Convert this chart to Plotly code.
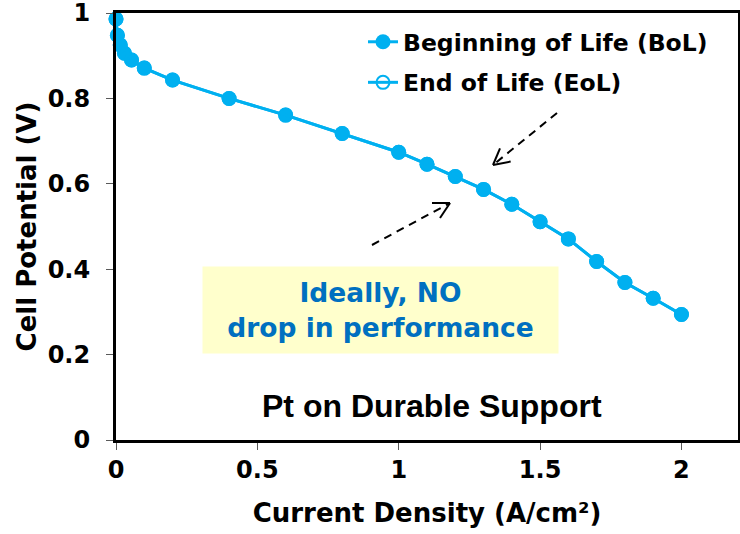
import math
import plotly.graph_objects as go

# ---- data ----
current_density = [0, 0.005, 0.015, 0.03, 0.055, 0.1, 0.2, 0.4, 0.6, 0.8, 1.0, 1.1, 1.2, 1.3,
                   1.4, 1.5, 1.6, 1.7, 1.8, 1.9, 2.0]
bol_potential = [0.986, 0.948, 0.925, 0.906, 0.890, 0.871, 0.843, 0.800, 0.761, 0.718, 0.674,
                 0.646, 0.617, 0.587, 0.552, 0.511, 0.471, 0.418, 0.369, 0.332, 0.294]
eol_potential = list(bol_potential)  # ideally no drop in performance
series_names = ["Beginning of Life (BoL)", "End of Life (EoL)"]
x_ticks = [0, 0.5, 1, 1.5, 2]
x_tick_labels = ["0", "0.5", "1", "1.5", "2"]
y_ticks = [0, 0.2, 0.4, 0.6, 0.8, 1]
y_tick_labels = ["0", "0.2", "0.4", "0.6", "0.8", "1"]

# ---- layout geometry ----
W, H = 740, 534
ML, MR, MT, MB = 116, 2, 13, 94
XR = [0, 2.2]
YR = [0, 1.0001]
PW, PH = W - ML - MR, H - MT - MB

def px2x(px):
    return XR[0] + (px - ML) / PW * (XR[1] - XR[0])

def py2y(py):
    return YR[0] + (H - MB - py) / PH * (YR[1] - YR[0])

BLUE = "#00B0F0"
FONT_V = "DejaVu Sans"

fig = go.Figure()
fig.add_trace(go.Scatter(
    x=current_density, y=bol_potential, name=series_names[0], mode="lines+markers",
    line=dict(color=BLUE, width=3), marker=dict(color=BLUE, size=15, symbol="circle"),
    legendgroup="a", cliponaxis=False))
fig.add_trace(go.Scatter(
    x=current_density, y=eol_potential, name=series_names[1], mode="lines+markers",
    line=dict(color=BLUE, width=3),
    marker=dict(color=BLUE, size=13, symbol="circle-open", line=dict(width=2)),
    legendgroup="b", cliponaxis=False))

shapes = []

def dashed_arrow(tail, tip, arm=18, ang=28):
    tx, ty = tail
    hx, hy = tip
    shapes.append(dict(type="line", xref="x", yref="y",
                       x0=px2x(tx), y0=py2y(ty), x1=px2x(hx), y1=py2y(hy),
                       line=dict(color="black", width=2, dash="8px,6px")))
    dx, dy = tx - hx, ty - hy
    L = math.hypot(dx, dy)
    ux, uy = dx / L, dy / L
    for s in (-1, 1):
        a = math.radians(ang * s)
        rx = ux * math.cos(a) - uy * math.sin(a)
        ry = ux * math.sin(a) + uy * math.cos(a)
        shapes.append(dict(type="line", xref="x", yref="y",
                           x0=px2x(hx), y0=py2y(hy),
                           x1=px2x(hx + rx * arm), y1=py2y(hy + ry * arm),
                           line=dict(color="black", width=2)))

dashed_arrow((557, 113), (493, 165))
dashed_arrow((372, 245), (450, 203))

annotations = [
    dict(x=px2x(380.5), y=py2y(310), xref="x", yref="y",
         text="<b>Ideally, NO<br>drop in performance</b>", showarrow=False,
         font=dict(family=FONT_V, size=26.5, color="#0070C0"),
         bgcolor="#FFFFCC", width=353, height=84, align="center", valign="middle"),
    dict(x=px2x(432), y=py2y(406), xref="x", yref="y",
         text="<b>Pt on Durable Support</b>", showarrow=False,
         font=dict(family="Liberation Sans", size=32, color="black")),
]

fig.update_layout(
    width=W, height=H,
    margin=dict(l=ML, r=MR, t=MT, b=MB),
    paper_bgcolor="white", plot_bgcolor="white",
    font=dict(family=FONT_V, color="black"),
    shapes=shapes, annotations=annotations,
    showlegend=True,
    legend=dict(x=(363 - ML) / PW, xanchor="left", y=(H - MB - 20) / PH, yanchor="top",
                traceorder="grouped", tracegroupgap=7,
                font=dict(family=FONT_V, size=23.5, color="black", weight="bold"),
                bgcolor="rgba(0,0,0,0)"),
    xaxis=dict(range=XR, tickvals=x_ticks, ticktext=x_tick_labels,
               showgrid=False, zeroline=False, automargin=False,
               showline=True, linecolor="black", linewidth=3, mirror=True,
               ticks="outside", ticklen=7, tickcolor="#595959", tickwidth=1,
               ticklabelstandoff=-1, ticklabeloverflow="allow",
               tickfont=dict(family=FONT_V, size=24, color="black", weight="bold"),
               title=dict(text="<b>Current Density (A/cm²)</b>", standoff=22,
                          font=dict(family=FONT_V, size=26, color="black"))),
    yaxis=dict(range=YR, tickvals=y_ticks, ticktext=y_tick_labels,
               showgrid=False, zeroline=False, automargin=False,
               showline=True, linecolor="black", linewidth=3, mirror=True,
               ticks="outside", ticklen=7, tickcolor="#595959", tickwidth=1,
               ticklabelstandoff=11, ticklabeloverflow="allow",
               tickfont=dict(family=FONT_V, size=24, color="black", weight="bold"),
               title=dict(text="<b>Cell Potential (V)</b>", standoff=4,
                          font=dict(family=FONT_V, size=26, color="black"))),
)

fig.write_html("out.html", config={"displayModeBar": False},
               post_script="document.body.style.margin='0';document.body.style.overflow='hidden';")
